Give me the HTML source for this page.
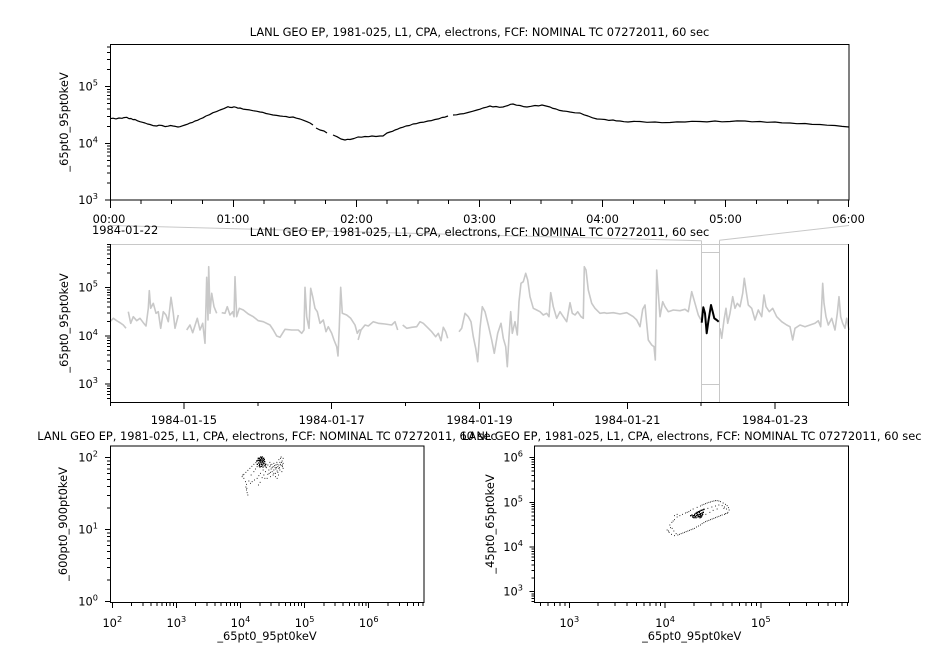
<!DOCTYPE html>
<html><head><meta charset="utf-8"><style>
html,body{margin:0;padding:0;background:#fff;}
svg{display:block;}
text{font-family:"DejaVu Sans","Liberation Sans",sans-serif;font-size:11.4px;fill:#000;}
.sup{font-size:8.2px;}
</style></head><body>
<svg width="926" height="647" viewBox="0 0 926 647" xmlns="http://www.w3.org/2000/svg">
<rect width="926" height="647" fill="#fff"/>

<!-- ========== TOP PANEL ========== -->
<text x="479.5" y="36" text-anchor="middle">LANL GEO EP, 1981-025, L1, CPA, electrons, FCF: NOMINAL TC 07272011, 60 sec</text>
<path d="M110,118.7 L113,118.2 L116,118.9 L119,118 L122,118.3 L124,117.6 L126.7,117.3 L129,118.6 L131,118.5 L133,119.6 L135,119.5 L137.5,120.8 L140,121.7 L142.5,122.3 L145,123 L147.5,124 L150,124.5 L153,125.6 L156.7,126 L159,125.2 L162,125.5 L165,126.6 L168,126.2 L170.5,125.5 L173,126 L175.5,126.4 L178,127 L180,126.7 L182.5,125.8 L185,125 L187.5,124.2 L190,123 L192.5,122.4 L195,121 L197.5,120.3 L200,119 L203,117.8 L206,116 L209.5,114.7 L213,112.7 L216.5,111.6 L220,110 L224,108.6 L228,106.7 L230,107.4 L232,107.5 L234,106.8 L236,107.3 L238,108.2 L240,108 L243,109.1 L246,109.5 L249.5,109.9 L253,110.7 L256.5,111.2 L260,112 L263,112.4 L266,113.5 L269.5,114.2 L273,115 L276.5,115.4 L280,116 L283,116.3 L286,116.5 L289.5,117.4 L293,117 L296.5,118.2 L300,119 L303.5,120.3 L307,121.7 L310,123 L313,125 M316,128 L320,130 L324,131 L327,133 M333,135 L337,136.7 L341,139 L345,140 L347.5,139.3 L350,139.5 L354,138.5 L358,137 L361.5,137.2 L365,136.5 L368.5,136.7 L372,136 L376,136.5 L380,136 L383,136 L387,133 L390,132 L392.5,131.3 L395,130 L397.5,129.2 L400,128 L403,127.2 L406,126 L409.5,125.5 L413,124 L416.5,123.6 L420,122.5 L424,122.1 L428,121 L431.5,120.6 L435,119.5 L438.5,118.9 L442,117.5 L445,117.1 L448,116 M453,115 L456.5,114.8 L460,114 L464,113.6 L468,112.5 L472.5,111.3 L477,110 L480,109.2 L483,108 L486.5,107.2 L490,106 L493,106.9 L496,106.5 L499.5,107.3 L503,107 L505.5,106.2 L508,105.5 L510.5,104.3 L513,104 L516.5,105.2 L520,105.5 L523.5,106.6 L527,107 L531,106.3 L535,105.5 L538.5,105.9 L542,105 L546,106 L550,107 L553,108.4 L556,109 L559.5,110.4 L563,111 L566.5,111.3 L570,112 L575,112.8 L580,113 L584,114.8 L588,116 L592.5,117.8 L597,119 L601,119.2 L605,119.5 L609,120.4 L613,120 L616.5,120.9 L620,121 L624,121.7 L628,122 L634,121.4 L640,121.5 L647,122.3 L655,122 L662,122.7 L670,122.5 L677,121.9 L685,122 L692,121.3 L700,121.5 L707,121.9 L715,121 L722,121.8 L730,121.5 L737,120.9 L745,121 L752,121.8 L760,121.5 L767,122.3 L775,122 L782,122.9 L790,123 L797,123.7 L805,123.5 L812,124.4 L820,124.5 L827,125.2 L835,125.5 L842,126.4 L849,127" fill="none" stroke="#000" stroke-width="1.2" stroke-linejoin="round"/>
<rect x="110.5" y="44.5" width="738.5" height="155.5" fill="none" stroke="#000" stroke-width="1"/>
<path d="M105,200H110 M107,182.9H110 M107,173H110 M107,165.9H110 M107,160.4H110 M107,155.9H110 M107,152.1H110 M107,148.8H110 M107,145.9H110 M105,143.3H110 M107,126.3H110 M107,116.3H110 M107,109.2H110 M107,103.7H110 M107,99.2H110 M107,95.4H110 M107,92.2H110 M107,89.3H110 M105,86.7H110 M107,69.6H110 M107,59.6H110 M107,52.5H110 M107,47H110" stroke="#000" stroke-width="1" shape-rendering="crispEdges"/>
<path d="M110.5,200V208 M233.5,200V207 M356.5,200V207 M479.5,200V207 M602.5,200V207 M725.5,200V207 M848.5,200V207 M140.8,200V204 M171.6,200V204 M202.4,200V204 M264,200V204 M294.8,200V204 M325.5,200V204 M387.1,200V204 M417.9,200V204 M448.7,200V204 M510.3,200V204 M541.1,200V204 M571.9,200V204 M633.5,200V204 M664.3,200V204 M695,200V204 M756.6,200V204 M787.4,200V204 M818.2,200V204" stroke="#000" stroke-width="1" shape-rendering="crispEdges"/>
<text x="98" y="204" text-anchor="end">10<tspan class="sup" dy="-5">3</tspan></text>
<text x="98" y="147.3" text-anchor="end">10<tspan class="sup" dy="-5">4</tspan></text>
<text x="98" y="90.7" text-anchor="end">10<tspan class="sup" dy="-5">5</tspan></text>
<text transform="translate(68,122) rotate(-90)" text-anchor="middle">_65pt0_95pt0keV</text>
<text x="109" y="223" text-anchor="middle">00:00</text>
<text x="233" y="223" text-anchor="middle">01:00</text>
<text x="356.5" y="223" text-anchor="middle">02:00</text>
<text x="479.5" y="223" text-anchor="middle">03:00</text>
<text x="602.5" y="223" text-anchor="middle">04:00</text>
<text x="725.5" y="223" text-anchor="middle">05:00</text>
<text x="848.5" y="223" text-anchor="middle">06:00</text>

<!-- ========== MIDDLE PANEL ========== -->
<path d="M110,225.5 L701.3,240.7 M849,225.5 L719.3,240.3" stroke="#c8c8c8" stroke-width="1" fill="none"/>
<path d="M110,244.5 H849 M701.5,240.5 V402 M719.5,240.5 V402 M701.5,252.5 H719.5 M701.5,384.5 H719.5 M110.5,244 V402" stroke="#c8c8c8" stroke-width="1" fill="none" shape-rendering="crispEdges"/>
<text x="92" y="234">1984-01-22</text>
<text x="479.5" y="236" text-anchor="middle">LANL GEO EP, 1981-025, L1, CPA, electrons, FCF: NOMINAL TC 07272011, 60 sec</text>

<path d="M110,321.7 L113.3,318.3 L116.7,320.7 L120,322.7 L123.3,325 L126,328.3 M128.3,311.7 L130.7,323.3 L133.3,316.7 L136.7,320.7 L140,318.3 L143.3,322.7 L146,326 L148.3,308.3 L149.3,290.7 L150.7,308.3 L153.3,303.3 L156,313.3 L158.3,311.7 L160.7,328.3 L163.3,311.7 L166,315 L168.3,321.7 L171,297.3 L173.3,313.3 L175,328.3 L178.3,315 M186.7,330 L190,325 L192.7,332.7 L197.3,318.3 L200,330 L202.7,323.3 L205,343.3 L206.7,277.3 L208,320 L208.7,266.7 L210,313.3 L211.7,293.3 L214,306.7 L216.7,313.3 M221.7,312.7 L225,313.3 L227.3,306.7 L230,315 L232.7,311.7 L234,316.7 L235,276.7 L236.7,316.7 L239.3,308.3 L243.3,310 L248.3,314 L253.3,316.7 L258.3,320.7 L263.3,321.7 L270,325 L273.3,330 L276.7,336 L280,337.3 L285,329.3 L291.7,330 L298.3,330 L301.7,333.3 L304,330 L305,287.3 L306.7,316.7 L309,328.3 L310.7,288.3 L312.7,296.7 L315,308.3 L317.3,311.7 L320,323.3 L323.3,320 L326,331.7 L328.3,326.7 L331.7,333.3 L334,340 L336.7,346.7 L338,356 L339.3,326.7 L340.7,287.3 L342.3,313.3 L346.7,315 L350.7,318.3 L355,325 L357.3,333.3 L359.3,330 L361,330 L358.3,339.3 L361,330 L365,325 L368.3,326 L373.3,321.7 L378.3,323.3 L385,324 L391.7,325 L395,321.7 L397.7,330 M402.7,325 L406.7,328.3 L411.7,327.3 L416.7,326.7 L420,321.7 L423.3,323.3 L426.7,326.7 L431.7,331.7 L435.7,336.7 L438.3,333.3 L441,340.7 L443.3,327.3 L445.7,331.7 L447.7,338.3 M459,331.7 L461.7,328.3 L465,313.3 L468.3,316.7 L471,321.7 L473.3,336.7 L475.7,348.3 L477.7,361.7 L480,328.3 L482.3,306.7 L485,311.7 L488.3,325 L491.7,340 L494.3,353.3 L497.7,333.3 L501,323.3 L503.3,338.3 L505.7,346.7 L507.3,366.7 L509,336.7 L510.7,311.7 L512.3,333.3 L515,321.7 L517.3,335 L519,301.7 L521,283.3 L523.3,281.7 L525.7,273.3 L527.7,280 L530,296.7 L533.3,308.3 L536.7,310 L540,311.7 L543.3,315 L546.7,313.3 L549,316.7 L550.7,292.7 L553.3,306.7 L556.7,318.3 L560,311.7 L563.3,316.7 L566.7,321.7 L570,302.7 L572.3,313.3 L575,315 L577.7,311.7 L581,316.7 L583.3,318.3 L584.3,266.7 L586,270 L588.3,290 L591.7,303.3 L595,308.3 L600,313.3 L604.3,312.7 L606.7,313.3 L613.3,312.7 L620,314 L626.7,312.7 L633.3,316.7 L636.7,320 L640,326.7 L642.7,309.3 L645,305 L646.7,323.3 L648.3,340 L651.7,345 L654,346.7 L655.3,360 L656.7,270 L658.3,293.3 L660,316.7 L662.7,301.7 L665,306.7 L668.3,311.7 L673.3,310 L680,310.7 L685,309.3 L688.3,311.7 L691.7,291.7 L695,303.3 L698.3,315 L701,320 M720,328.3 L721.7,338.3 L724,320 L726,308.3 L727.7,323.3 L730,313.3 L732.7,296.7 L735,308.3 L737.3,303.3 L740,306.7 L742.7,293.3 L744.3,278.3 L746,290 L748.3,305 L751.7,308.3 L755,320 L758.3,310 L761.7,316.7 L764,295 L766,306.7 L769.3,311.7 L772.7,308.3 L776.7,316.7 L781.7,321.7 L786.7,325 L790,326.7 L792.7,340 L795,328.3 L800,325 L805,326.7 L810,325 L815,323.3 L818.3,320.7 L820.7,326.7 L822.7,283.3 L824,303.3 L826,316.7 L828.3,325 L831.7,318.3 L835,330 L837.3,313.3 L839,296.7 L840.7,316.7 L842.7,323.3 L845,328.3 L846.7,318.3 L849,330" fill="none" stroke="#c8c8c8" stroke-width="1.6" stroke-linejoin="round"/>
<path d="M701.7,322.7 L703.3,307.3 L705,313.3 L706.7,333.3 L708.3,321.7 L711,305 L712.7,311.7 L714.3,318.3 L716.7,320 L718.7,321.7" fill="none" stroke="#000" stroke-width="2" stroke-linejoin="round"/>
<path d="M110.5,244 V402.5 H849 M848.5,244 V402" stroke="#000" stroke-width="1" fill="none" shape-rendering="crispEdges"/>
<path d="M107,398.5H110 M107,394.7H110 M107,391.5H110 M107,388.7H110 M107,386.2H110 M105,384H110 M107,369.5H110 M107,361H110 M107,355H110 M107,350.3H110 M107,346.5H110 M107,343.3H110 M107,340.5H110 M107,338.1H110 M105,335.9H110 M107,321.4H110 M107,312.9H110 M107,306.9H110 M107,302.2H110 M107,298.4H110 M107,295.2H110 M107,292.4H110 M107,289.9H110 M105,287.7H110 M107,273.2H110 M107,264.7H110 M107,258.7H110 M107,254H110 M107,250.2H110 M107,247H110 M107,244.5H110" stroke="#000" stroke-width="1" shape-rendering="crispEdges"/>
<path d="M110.5,402V406 M183.9,402V409 M257.8,402V406 M331.7,402V409 M405.6,402V406 M479.5,402V409 M553.4,402V406 M627.3,402V409 M701.2,402V406 M775.1,402V409 M848.5,402V406" stroke="#000" stroke-width="1" shape-rendering="crispEdges"/>
<text x="98" y="388" text-anchor="end">10<tspan class="sup" dy="-5">3</tspan></text>
<text x="98" y="339.9" text-anchor="end">10<tspan class="sup" dy="-5">4</tspan></text>
<text x="98" y="291.7" text-anchor="end">10<tspan class="sup" dy="-5">5</tspan></text>
<text transform="translate(68,323) rotate(-90)" text-anchor="middle">_65pt0_95pt0keV</text>
<text x="183.9" y="424" text-anchor="middle">1984-01-15</text>
<text x="331.7" y="424" text-anchor="middle">1984-01-17</text>
<text x="479.5" y="424" text-anchor="middle">1984-01-19</text>
<text x="627.3" y="424" text-anchor="middle">1984-01-21</text>
<text x="775.1" y="424" text-anchor="middle">1984-01-23</text>

<!-- ========== BOTTOM LEFT ========== -->
<text x="267" y="440" text-anchor="middle">LANL GEO EP, 1981-025, L1, CPA, electrons, FCF: NOMINAL TC 07272011, 60 sec</text>
<g transform="translate(30,425) scale(0.33333)">
<path d="M635,155h3 M640,148h3 M646,142h3 M652,136h3 M658,130h3 M664,124h3 M670,118h3 M676,113h3 M682,108h3 M640,160h3 M637,150h3 M645,170h3 M648,178h3 M646,186h3 M648,195h3 M650,203h3 M652,210h3 M649,190h3 M655,168h3 M660,175h3 M665,170h3 M672,165h3 M680,160h3 M685,152h3 M690,145h3 M684,180h3 M689,172h3 M662,150h3 M670,140h3 M675,132h3 M680,125h3 M688,118h3 M698,115h3 M706,126h3 M712,120h3 M718,125h3 M725,128h3 M732,122h3 M740,118h3 M748,112h3 M755,108h3 M758,100h3 M752,96h3 M745,104h3 M758,115h3 M756,125h3 M752,122h3 M745,130h3 M740,138h3 M735,145h3 M728,150h3 M720,155h3 M712,148h3 M705,140h3 M698,135h3 M700,150h3 M710,160h3 M720,142h3 M730,135h3 M738,128h3 M745,120h3 M750,100h3 M758,130h3 M740,160h3 M735,155h3 M715,135h3 M708,128h3 M725,140h3 M730,145h3 M742,142h3 M748,135h3 M754,140h3 M744,150h3 M736,132h3 M722,132h3 M716,145h3 M703,160h3 M695,158h3 M718,112h3 M724,118h3 M730,115h3 M736,120h3 M742,125h3 M750,118h3 M753,112h3 M728,125h3 M734,128h3 M747,128h3 M720,120h3 M739,112h3 M756,120h3" stroke="#333" stroke-width="3" fill="none"/>
<path d="M686,100h4 M689,104h4 M692,98h4 M695,102h4 M698,106h4 M688,110h4 M691,113h4 M694,108h4 M697,112h4 M700,116h4 M684,114h4 M687,118h4 M693,118h4 M696,120h4 M690,96h4 M699,100h4 M702,110h4 M682,106h4 M686,122h4 M692,124h4 M680,118h4 M678,108h4 M690,107h4 M695,96h4 M701,104h4 M705,118h4 M683,100h4 M697,126h4 M688,126h4 M703,122h4 M692,102h4 M686,106h4 M696,110h4" stroke="#000" stroke-width="4" fill="none"/>
</g>
<rect x="110.5" y="446" width="313.5" height="156.5" fill="none" stroke="#000" stroke-width="1"/>
<path d="M112.3,602V608 M176.4,602V608 M240.5,602V608 M304.6,602V608 M368.7,602V608 M131.6,602V606 M142.9,602V606 M150.9,602V606 M157.1,602V606 M162.2,602V606 M166.5,602V606 M170.2,602V606 M173.5,602V606 M195.7,602V606 M207,602V606 M215,602V606 M221.2,602V606 M226.3,602V606 M230.6,602V606 M234.3,602V606 M237.6,602V606 M259.8,602V606 M271.1,602V606 M279.1,602V606 M285.3,602V606 M290.4,602V606 M294.7,602V606 M298.4,602V606 M301.7,602V606 M323.9,602V606 M335.2,602V606 M343.2,602V606 M349.4,602V606 M354.5,602V606 M358.8,602V606 M362.5,602V606 M365.8,602V606 M388,602V606 M399.3,602V606 M407.3,602V606 M413.5,602V606 M418.6,602V606 M422.9,602V606" stroke="#000" stroke-width="1" shape-rendering="crispEdges"/>
<path d="M105,601.7H110 M105,529.7H110 M105,457.7H110 M107,580H110 M107,567.4H110 M107,558.4H110 M107,551.4H110 M107,545.7H110 M107,540.9H110 M107,536.7H110 M107,533H110 M107,508H110 M107,495.4H110 M107,486.4H110 M107,479.4H110 M107,473.7H110 M107,468.9H110 M107,464.7H110 M107,461H110" stroke="#000" stroke-width="1" shape-rendering="crispEdges"/>
<text x="98" y="605.7" text-anchor="end">10<tspan class="sup" dy="-5">0</tspan></text>
<text x="98" y="533.7" text-anchor="end">10<tspan class="sup" dy="-5">1</tspan></text>
<text x="98" y="461.7" text-anchor="end">10<tspan class="sup" dy="-5">2</tspan></text>
<text x="112.3" y="627" text-anchor="middle">10<tspan class="sup" dy="-5">2</tspan></text>
<text x="176.4" y="627" text-anchor="middle">10<tspan class="sup" dy="-5">3</tspan></text>
<text x="240.5" y="627" text-anchor="middle">10<tspan class="sup" dy="-5">4</tspan></text>
<text x="304.6" y="627" text-anchor="middle">10<tspan class="sup" dy="-5">5</tspan></text>
<text x="368.7" y="627" text-anchor="middle">10<tspan class="sup" dy="-5">6</tspan></text>
<text transform="translate(67,524) rotate(-90)" text-anchor="middle">_600pt0_900pt0keV</text>
<text x="267" y="640" text-anchor="middle">_65pt0_95pt0keV</text>

<!-- ========== BOTTOM RIGHT ========== -->
<text x="691.7" y="440" text-anchor="middle">LANL GEO EP, 1981-025, L1, CPA, electrons, FCF: NOMINAL TC 07272011, 60 sec</text>
<g transform="translate(470,425) scale(0.33333)">
<path d="M598,300h3 M604,292h3 M612,284h3 M620,276h3 M628,272h3 M636,268h3 M645,264h3 M655,260h3 M668,252h3 M680,247h3 M690,243h3 M700,238h3 M710,234h3 M720,231h3 M730,228h3 M740,227h3 M750,230h3 M758,234h3 M765,238h3 M770,242h3 M774,248h3 M776,255h3 M772,262h3 M765,266h3 M590,315h3 M596,322h3 M603,328h3 M612,332h3 M622,330h3 M632,326h3 M642,322h3 M652,318h3 M662,314h3 M672,310h3 M684,303h3 M695,296h3 M705,290h3 M715,286h3 M725,282h3 M735,278h3 M745,274h3 M755,270h3 M762,268h3 M770,265h3 M620,268h3 M612,272h3 M605,310h3 M610,318h3 M680,262h3 M690,258h3 M700,254h3 M712,250h3 M724,246h3 M735,243h3 M745,240h3 M755,242h3 M762,246h3 M740,252h3 M728,256h3 M718,262h3 M706,268h3 M617,326h3 M627,328h3 M637,324h3 M647,320h3 M657,316h3 M667,312h3 M678,306h3 M690,300h3 M700,293h3 M710,288h3 M720,284h3 M730,280h3 M740,276h3 M750,272h3 M760,250h3 M768,252h3 M695,240h3 M705,236h3 M715,232h3 M725,229h3 M735,227h3 M745,228h3 M600,308h3 M594,318h3 M608,288h3 M650,262h3 M660,256h3" stroke="#333" stroke-width="3" fill="none"/>
<path d="M668,272h4 M672,268h4 M676,265h4 M680,262h4 M684,260h4 M688,258h4 M692,256h4 M696,255h4 M700,253h4 M674,275h4 M678,272h4 M682,270h4 M686,268h4 M690,266h4 M694,264h4 M670,278h4 M676,278h4 M682,276h4 M688,274h4 M694,272h4 M686,262h4 M680,268h4 M684,274h4 M690,270h4 M698,262h4 M678,264h4 M672,272h4 M666,276h4 M692,276h4 M688,278h4 M664,270h4 M660,272h4 M696,268h4" stroke="#000" stroke-width="4" fill="none"/>
</g>
<rect x="534.5" y="446" width="314" height="156.5" fill="none" stroke="#000" stroke-width="1"/>
<path d="M569.3,602V608 M665.1,602V608 M760.9,602V608 M540.5,602V606 M548,602V606 M554.4,602V606 M560,602V606 M564.9,602V606 M598.1,602V606 M615,602V606 M627,602V606 M636.3,602V606 M643.8,602V606 M650.2,602V606 M655.8,602V606 M660.7,602V606 M693.9,602V606 M710.8,602V606 M722.8,602V606 M732.1,602V606 M739.6,602V606 M746,602V606 M751.6,602V606 M756.5,602V606 M789.7,602V606 M806.6,602V606 M818.6,602V606 M827.9,602V606 M835.4,602V606 M841.8,602V606 M847.4,602V606" stroke="#000" stroke-width="1" shape-rendering="crispEdges"/>
<path d="M529.3,591.7H534.3 M529.3,547H534.3 M529.3,502.3H534.3 M529.3,457.6H534.3 M531.3,601.6H534.3 M531.3,598.6H534.3 M531.3,596H534.3 M531.3,593.8H534.3 M531.3,578.2H534.3 M531.3,570.4H534.3 M531.3,564.8H534.3 M531.3,560.5H534.3 M531.3,556.9H534.3 M531.3,553.9H534.3 M531.3,551.3H534.3 M531.3,549.1H534.3 M531.3,533.5H534.3 M531.3,525.7H534.3 M531.3,520.1H534.3 M531.3,515.8H534.3 M531.3,512.2H534.3 M531.3,509.2H534.3 M531.3,506.6H534.3 M531.3,504.4H534.3 M531.3,488.8H534.3 M531.3,481H534.3 M531.3,475.4H534.3 M531.3,471.1H534.3 M531.3,467.5H534.3 M531.3,464.5H534.3 M531.3,461.9H534.3 M531.3,459.7H534.3" stroke="#000" stroke-width="1" shape-rendering="crispEdges"/>
<text x="523" y="595.7" text-anchor="end">10<tspan class="sup" dy="-5">3</tspan></text>
<text x="523" y="551" text-anchor="end">10<tspan class="sup" dy="-5">4</tspan></text>
<text x="523" y="506.3" text-anchor="end">10<tspan class="sup" dy="-5">5</tspan></text>
<text x="523" y="461.6" text-anchor="end">10<tspan class="sup" dy="-5">6</tspan></text>
<text x="569.3" y="627" text-anchor="middle">10<tspan class="sup" dy="-5">3</tspan></text>
<text x="665.1" y="627" text-anchor="middle">10<tspan class="sup" dy="-5">4</tspan></text>
<text x="760.9" y="627" text-anchor="middle">10<tspan class="sup" dy="-5">5</tspan></text>
<text transform="translate(494,524) rotate(-90)" text-anchor="middle">_45pt0_65pt0keV</text>
<text x="691.7" y="640" text-anchor="middle">_65pt0_95pt0keV</text>
</svg>
</body></html>
